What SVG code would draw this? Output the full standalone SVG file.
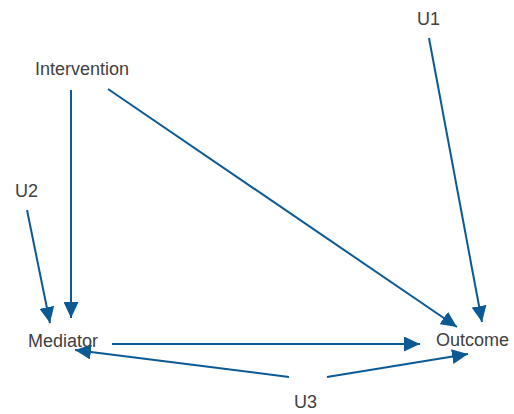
<svg xmlns="http://www.w3.org/2000/svg" width="514" height="414" viewBox="0 0 514 414">
<style>
.lbl{font-family:"Liberation Sans",Arial,sans-serif;font-size:18px;fill:#404040}
.edge{stroke:#0b5a95;stroke-width:2;fill:none;marker-end:url(#ah)}
</style>
<defs>
<marker id="ah" markerUnits="userSpaceOnUse" markerWidth="17" markerHeight="15" refX="16" refY="7.5" orient="auto">
<path d="M0,0 L16,7.5 L0,15 z" fill="#0b5a95"/>
</marker>
</defs>
<rect width="514" height="414" fill="#ffffff"/>
<g id="connectors">
<line class="edge" x1="71" y1="90" x2="71" y2="318"/>
<line class="edge" x1="108" y1="89" x2="457" y2="327"/>
<line class="edge" x1="429" y1="38" x2="482" y2="322"/>
<line class="edge" x1="27" y1="210" x2="50" y2="323"/>
<line class="edge" x1="112" y1="344" x2="420" y2="344"/>
<line class="edge" x1="289" y1="377" x2="75" y2="350"/>
<line class="edge" x1="327" y1="377" x2="468" y2="354"/>
</g>
<g id="node-intervention"><text class="lbl" x="35" y="75">Intervention</text></g>
<g id="node-u1"><text class="lbl" x="417" y="25">U1</text></g>
<g id="node-u2"><text class="lbl" x="15" y="197">U2</text></g>
<g id="node-mediator"><text class="lbl" x="28" y="347">Mediator</text></g>
<g id="node-outcome"><text class="lbl" x="436" y="346">Outcome</text></g>
<g id="node-u3"><text class="lbl" x="294" y="408">U3</text></g>
</svg>
